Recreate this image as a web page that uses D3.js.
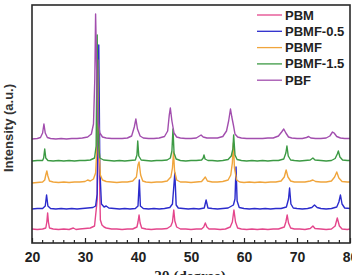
<!DOCTYPE html>
<html><head><meta charset="utf-8">
<script src="https://cdn.jsdelivr.net/npm/d3@7"></script>
<style>body{margin:0;background:#fff}svg{display:block}</style>
</head><body>
<script>
const seriesNames = ["PBM","PBMF-0.5","PBMF","PBMF-1.5","PBF"];
const seriesColors = ["#e4468c","#2b2bcc","#f0a53c","#3c9a44","#a24eae"];
const offsets = [13,34,60,82,104];
const xTicks = [20,30,40,50,60,70,80];

const pbm = [[20,1],[21,0.5],[22,1],[22.6,2],[22.8,8],[22.95,17],[23.1,8],[23.3,2],[24,1],[25,0.5],[26,1],[27,0.5],[27.8,2],[28.3,0.5],[29,1],[30,1.5],[31,2],[31.8,4],[32.3,30],[32.5,160],[32.7,60],[32.9,10],[33.2,5],[33.6,3],[34,2],[35,1],[36,1],[37,0.5],[38,1],[39,1],[39.8,3],[40.0,8],[40.2,15],[40.4,7],[40.7,2],[41.5,1],[42.5,0.5],[43.5,1],[44.5,1],[45.5,1.5],[46.2,4],[46.5,8],[46.75,20],[46.95,9],[47.3,3],[48,1],[49,1],[50,0.5],[51,1],[52,1],[52.4,3],[52.7,7],[53,3],[53.4,1],[54.5,1],[55.5,0.5],[56.5,1],[57.4,3],[57.8,8],[58.1,20],[58.4,8],[58.8,2],[59.5,1],[60.5,0.5],[61.5,1],[62.5,0.5],[63.5,1],[64.5,0.5],[65.5,1],[66.5,1],[67.6,3],[67.9,8],[68.15,15],[68.4,7],[68.8,2],[69.5,1],[70.5,1],[71.5,0.5],[72.5,1.5],[73,4],[73.4,1.5],[74.5,1],[75.5,0.5],[76.5,1],[77.2,4],[77.6,12],[78,4],[78.5,1],[79.5,0.5],[80,1]];
const pbmf05 = [[20,0],[21,0.5],[22,0.5],[22.5,3],[22.75,14],[23,3],[23.5,0.5],[24.5,0],[25.5,0.5],[26.5,0],[27.5,0.5],[28.5,0],[29.5,0.5],[30.5,1],[31.5,1.5],[32,3],[32.3,15],[32.6,164],[32.8,40],[33.1,5],[33.6,2],[34,3],[34.5,1],[35.5,0.5],[36.5,0],[37.5,0.5],[38.5,0],[39.5,0.5],[40,3],[40.25,29],[40.45,3],[41,0.5],[42,0],[43,0.5],[44,0],[45,0.5],[46,1.5],[46.5,5],[46.95,36],[47.2,4],[47.6,1],[48.5,0.5],[49.5,0],[50.5,0.5],[51.5,0],[52.5,1],[52.85,9],[53.2,1],[54,0.5],[55,0],[56,0.5],[57,1],[58,4],[58.3,10],[58.5,42],[58.7,8],[59.1,1.5],[60,0.5],[61,0],[62,0.5],[63,0],[64,0.5],[65,0],[66,0.5],[67,0.5],[68,2],[68.4,10],[68.6,21],[68.85,5],[69.3,1],[70,0.5],[71,0],[72,0.5],[72.8,1.5],[73.3,4],[73.8,1.5],[74.5,0.5],[75.5,0],[76.5,0.5],[77.5,2],[77.9,7],[78.2,14],[78.5,5],[79,1],[80,0.5]];
const pbmf = [[20,0],[21,0.5],[22,1],[22.4,3],[22.6,8],[22.8,12],[23.0,7],[23.3,2],[24,1],[25,0.5],[26,1],[27,0.5],[28,1],[29,1],[30,1.5],[30.5,3],[31,2],[31.6,4],[32,10],[32.2,30],[32.4,123],[32.6,40],[32.9,8],[33.3,3],[34,1.5],[35,1],[36,0.5],[37,1],[38,1],[39,2],[39.7,6],[40.0,18],[40.2,21],[40.5,8],[40.9,2],[41.5,1],[42.5,0.5],[43.5,1],[44.5,1],[45.5,2],[46.2,6],[46.5,15],[46.7,31],[46.9,12],[47.3,3],[48,1],[49,1],[50,0.5],[51,1],[52,1.5],[52.4,4],[52.7,6],[53.1,2],[54,1],[55,1],[56,1.5],[57,3],[57.5,8],[57.8,20],[58.0,40],[58.2,15],[58.6,3],[59.2,1],[60,0.5],[61,1],[62,0.5],[63,1],[64,0.5],[65,1],[66,1],[67,2],[67.6,6],[67.95,13],[68.3,6],[68.8,2],[69.5,1],[70.5,1],[71.5,1],[72.5,2],[73,3],[73.5,1.5],[74.5,1],[75.5,1],[76.5,2],[77.1,6],[77.5,11],[77.9,5],[78.5,1.5],[79.5,1],[80,1]];
const pbmf15 = [[20,0],[21,0.5],[22,0.5],[22.2,3],[22.4,12],[22.6,3],[23,0.5],[24,0],[25,0.5],[26,0],[27,0.5],[28,0],[29,0.5],[30,0.5],[31,1],[31.8,3],[32.1,15],[32.3,126],[32.5,20],[32.8,3],[33.5,1],[34.5,0.5],[35.5,0],[36.5,0.5],[37.5,0],[38.5,0.5],[39.5,1],[39.8,6],[39.95,20],[40.15,5],[40.6,1],[41.5,0.5],[42.5,0],[43.5,0.5],[44.5,0.5],[45.5,1],[46.1,3],[46.4,10],[46.6,32],[46.8,8],[47.2,2],[48,0.5],[49,0],[50,0.5],[51,0.5],[52,1],[52.3,3],[52.45,6],[52.65,2],[53.2,0.5],[54,0.5],[55,0],[56,0.5],[57,1.5],[57.6,5],[57.9,12],[58.05,26],[58.3,6],[58.7,1.5],[59.5,0.5],[60.5,0],[61.5,0.5],[62.5,0],[63.5,0.5],[64.5,0],[65.5,0.5],[66.5,0.5],[67.5,2],[67.9,8],[68.1,15],[68.35,5],[68.8,1],[69.5,0.5],[70.5,0],[71.5,0.5],[72.5,1],[73,3],[73.4,1],[74.5,0.5],[75.5,0],[76.5,0.5],[77.2,2.5],[77.6,7],[77.8,10],[78.1,4],[78.6,1],[79.5,0.5],[80,0.5]];
const pbf = [[20,0],[21,0.5],[21.6,1.5],[22,6],[22.25,15],[22.5,6],[22.9,1.5],[23.5,0.5],[24.5,0],[25.5,0.5],[26.5,0],[27.5,0.5],[28.5,0.5],[29.5,1],[30.5,2],[31.2,5],[31.6,15],[31.85,60],[32.0,125],[32.2,70],[32.4,20],[32.8,6],[33.3,2],[34,1],[35,0.5],[36,0.5],[37,0.5],[38,1],[38.8,3],[39.3,12],[39.6,20],[39.9,10],[40.4,3],[41,1],[42,0.5],[43,0.5],[44,1],[45,2.5],[45.6,8],[45.9,24],[46.1,31],[46.4,18],[46.8,6],[47.3,2],[48,1],[49,0.5],[50,0.5],[51,1],[51.6,3],[51.9,4],[52.3,2],[53,1],[54,1],[55,1],[56,2.5],[56.7,8],[57.1,18],[57.45,30],[57.7,22],[58.0,14],[58.3,5],[58.8,2],[59.5,1],[60.5,0.5],[61.5,0.5],[62.5,0.5],[63.5,0.5],[64.5,1],[65.5,1],[66.5,3],[67.1,7],[67.5,10],[67.9,6],[68.4,2],[69,1],[70,0.5],[71,0.5],[71.8,1.5],[72.2,2.5],[72.6,1],[73.5,0.5],[74.5,0.5],[75.5,1],[76.2,3],[76.7,7],[77.0,6],[77.5,2.5],[78.2,1],[79,0.5],[80,0.5]];
const seriesData = [pbm, pbmf05, pbmf, pbmf15, pbf];

const W = 352, H = 275;
const m = {left:32, right:2, top:5, bottom:32};
const svg = d3.select("body").append("svg").attr("width", W).attr("height", H);
const x = d3.scaleLinear().domain([20,80]).range([m.left, W - m.right]);
const y = d3.scaleLinear().domain([0,238]).range([H - m.bottom, m.top]);

svg.append("clipPath").attr("id","clip").append("rect")
  .attr("x", m.left).attr("y", m.top).attr("width", W - m.right - m.left).attr("height", H - m.bottom - m.top);

const line = d3.line().x(d => x(d[0])).y(d => y(d[1]));
const g = svg.append("g").attr("clip-path","url(#clip)");
seriesData.forEach((s, i) => {
  g.append("path")
    .datum(s.map(d => [d[0], d[1] + offsets[i]]))
    .attr("d", line).attr("fill","none")
    .attr("stroke", seriesColors[i]).attr("stroke-width", 1.4)
    .attr("stroke-linejoin","round");
});

// minor ticks (inward)
const minor = d3.range(22, 80, 2).filter(v => v % 10 !== 0);
svg.append("g").selectAll("line").data(minor).join("line")
  .attr("x1", d => x(d)).attr("x2", d => x(d))
  .attr("y1", H - m.bottom).attr("y2", H - m.bottom - 3)
  .attr("stroke","#222").attr("stroke-width",1.2);

const xAxis = d3.axisBottom(x).tickValues(xTicks).tickSize(-5).tickPadding(9).tickFormat(d3.format("d"));
const ax = svg.append("g").attr("transform", `translate(0,${H - m.bottom})`).call(xAxis);
ax.select(".domain").remove();
ax.selectAll(".tick line").attr("stroke","#222").attr("stroke-width",1.2);
ax.selectAll("text").attr("font-family","Liberation Sans, Arial, sans-serif")
  .attr("font-weight","bold").attr("font-size","14px").attr("fill","#222");

// frame
svg.append("rect").attr("x", m.left).attr("y", m.top)
  .attr("width", W - m.right - m.left).attr("height", H - m.bottom - m.top)
  .attr("fill","none").attr("stroke","#2a2a2a").attr("stroke-width",1.6);

// axis labels
svg.append("text").attr("transform","translate(13,128) rotate(-90)")
  .attr("text-anchor","middle").attr("font-family","Liberation Sans, Arial, sans-serif")
  .attr("font-weight","bold").attr("font-size","13px").attr("fill","#333")
  .text("Intensity (a.u.)");
svg.append("text").attr("x", 190).attr("y", 281).attr("text-anchor","middle")
  .attr("font-family","Liberation Serif, Times New Roman, serif")
  .attr("font-weight","bold").attr("font-size","15px").attr("fill","#222")
  .text("2θ (degree)");

// legend
const leg = svg.append("g");
seriesNames.forEach((n, i) => {
  const yy = 15 + i * 16.3;
  leg.append("line").attr("x1", 257).attr("x2", 282).attr("y1", yy).attr("y2", yy)
    .attr("stroke", seriesColors[i]).attr("stroke-width", 1.3);
  leg.append("text").attr("x", 285).attr("y", yy + 4.5)
    .attr("font-family","Liberation Sans, Arial, sans-serif").attr("font-weight","bold")
    .attr("font-size","13px").attr("fill","#222").text(n);
});
</script>
</body></html>
